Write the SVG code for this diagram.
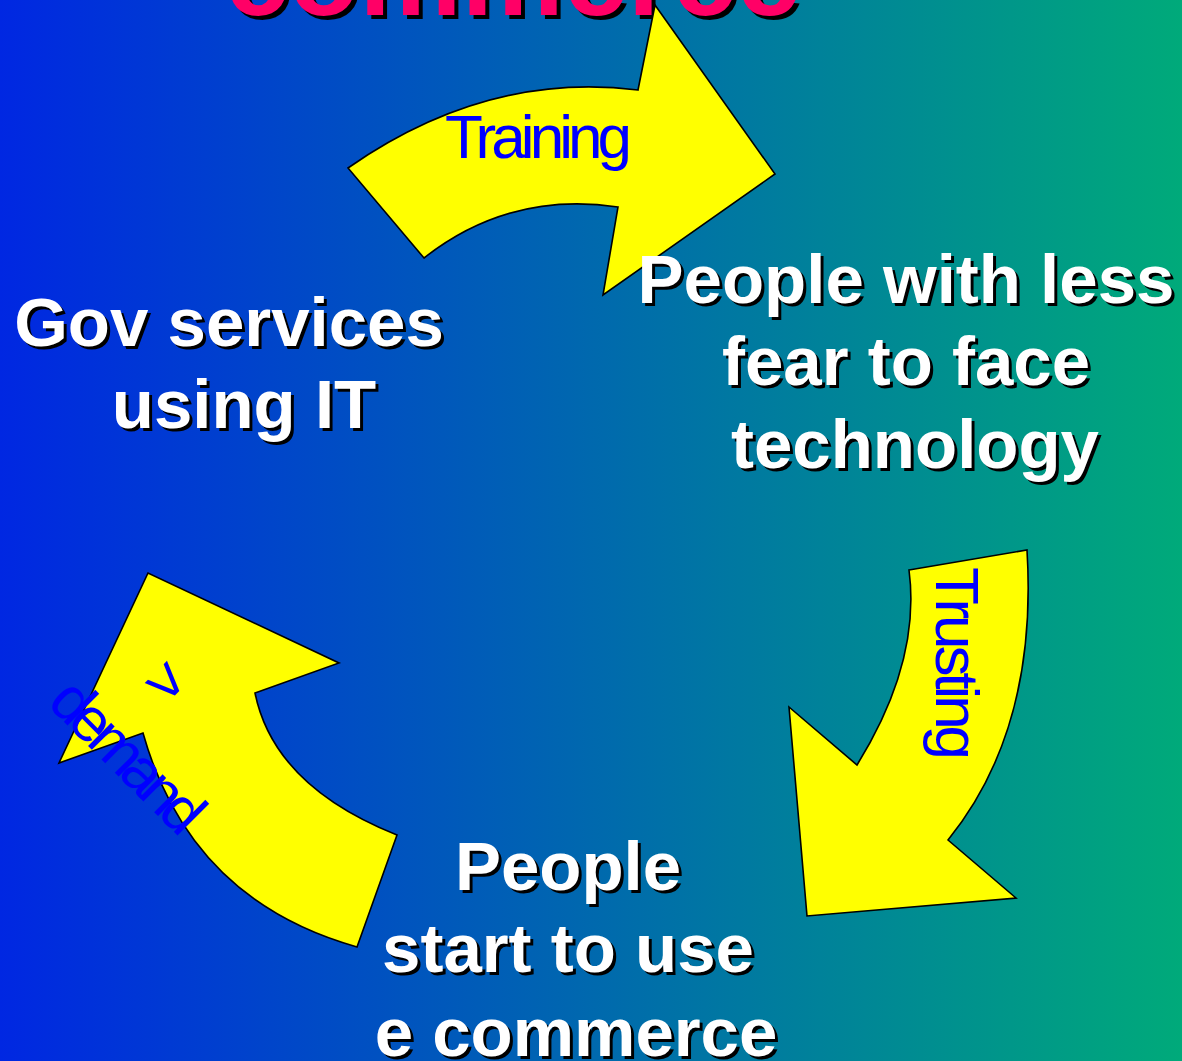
<svg xmlns="http://www.w3.org/2000/svg" width="1182" height="1061" viewBox="0 0 1182 1061">
  <defs>
    <linearGradient id="bg" x1="0" y1="0" x2="1" y2="0">
      <stop offset="0" stop-color="#0027E2"/>
      <stop offset="1" stop-color="#00AA7A"/>
    </linearGradient>
    <style>
      .node { font-family: "Liberation Sans", Arial, sans-serif; font-weight: bold; font-size: 69px; text-anchor: middle; }
      .node .shadow { fill: #000; }
      .node .face { fill: #fff; }
      .title { font-family: "Liberation Sans", Arial, sans-serif; font-weight: bold; font-size: 115px; }
      .arrow { fill: #FFFF00; stroke: #000; stroke-width: 1.6; stroke-linejoin: miter; }
      .label { font-family: "Liberation Sans", Arial, sans-serif; font-size: 62px; fill: #0000FF; }
    </style>
  </defs>

  <!-- background -->
  <rect x="0" y="0" width="1182" height="1061" fill="url(#bg)"/>

  <!-- heading, mostly above the frame -->
  <g id="title" class="title">
    <text x="229" y="19" fill="#000">commerce</text>
    <text x="225" y="15" fill="#FF0066">commerce</text>
  </g>

  <!-- curved arrows with their labels -->
  <g id="connectors">
    <g id="arrow-training">
      <path class="arrow" d="M348,168 Q487,71 638,90 L655,5 L775,174 L603,295 L618,207 Q509,191 424,258 Z"/>
      <text class="label" x="445" y="158" textLength="187" lengthAdjust="spacing">Training</text>
    </g>
    <g id="arrow-trusting">
      <path class="arrow" d="M909,570 L1027,550 Q1038,729 948,840 L1016,898 L807,916 L789,707 L857,765 Q921,662 909,570 Z"/>
      <text class="label" transform="translate(936,567) rotate(90)" x="0" y="0" textLength="193" lengthAdjust="spacing">Trusting</text>
    </g>
    <g id="arrow-demand">
      <path class="arrow" d="M357,947 Q190,900 143,733 L59,763 L148,573 L339,663 L255,693 Q274,786 397,835 Z"/>
      <g transform="translate(46,704) rotate(45)">
        <text class="label" x="52" y="-80">&gt;</text>
        <text class="label" x="0" y="0" textLength="190" lengthAdjust="spacing">demand</text>
      </g>
    </g>
  </g>

  <!-- stages of the cycle -->
  <g id="node-gov" class="node">
    <text class="shadow" x="232" y="349">Gov services</text>
    <text class="face" x="229" y="346">Gov services</text>
    <text class="shadow" x="247" y="431">using IT</text>
    <text class="face" x="244" y="428">using IT</text>
  </g>

  <g id="node-people-less-fear" class="node">
    <text class="shadow" x="909" y="306">People with less</text>
    <text class="face" x="906" y="303">People with less</text>
    <text class="shadow" x="909" y="388">fear to face</text>
    <text class="face" x="906" y="385">fear to face</text>
    <text class="shadow" x="918" y="471">technology</text>
    <text class="face" x="915" y="468">technology</text>
  </g>

  <g id="node-ecommerce" class="node">
    <text class="shadow" x="571" y="893">People</text>
    <text class="face" x="568" y="890">People</text>
    <text class="shadow" x="571" y="975">start to use</text>
    <text class="face" x="568" y="972">start to use</text>
    <text class="shadow" x="579" y="1059">e commerce</text>
    <text class="face" x="576" y="1056">e commerce</text>
  </g>
</svg>
